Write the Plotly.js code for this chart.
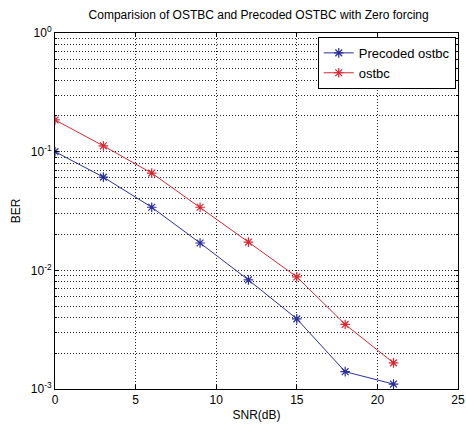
<!DOCTYPE html>
<html>
<head>
<meta charset="utf-8">
<script src="https://cdn.plot.ly/plotly-3.0.1.min.js"></script>
<style>html,body{margin:0;padding:0;background:#fff;}#chart{width:466px;height:428px;}</style>
</head>
<body>
<div id="chart"></div>
<script>
const snr = [0, 3, 6, 9, 12, 15, 18, 21];
const precodedBer = [0.1, 0.061, 0.034, 0.017, 0.0083, 0.0039, 0.0014, 0.0011];
const ostbcBer = [0.185, 0.112, 0.066, 0.034, 0.0173, 0.0088, 0.0035, 0.00166];
const xTickVals = [0, 5, 10, 15, 20, 25];
const yTickVals = [0.001, 0.01, 0.1, 1];
const yTickText = ['10<sup>-3</sup>', '10<sup>-2</sup>', '10<sup>-1</sup>', '10<sup>0</sup>'];

const font = {family: 'Liberation Sans, Arial, sans-serif', size: 12, color: '#000'};
const dot = '1px,2px';

const traces = [
  {x: snr, y: precodedBer, name: 'Precoded ostbc', mode: 'lines+markers',
   line: {color: '#2a2f96', width: 1},
   marker: {symbol: 'asterisk-open', size: 8, color: '#2a2f96', line: {color: '#2a2f96', width: 1.2}}},
  {x: snr, y: ostbcBer, name: 'ostbc', mode: 'lines+markers',
   line: {color: '#d42a35', width: 1},
   marker: {symbol: 'asterisk-open', size: 8, color: '#d42a35', line: {color: '#d42a35', width: 1.2}}}
];

const layout = {
  width: 466, height: 428,
  margin: {l: 55, r: 8, t: 33, b: 39},
  paper_bgcolor: '#fff', plot_bgcolor: '#fff',
  font: font,
  showlegend: true,
  title: {text: 'Comparision of OSTBC and Precoded OSTBC with Zero forcing', font: {family: font.family, size: 12, color: '#000'}, x: 0.555, xanchor: 'center', y: 0.975, yanchor: 'top'},
  xaxis: {
    range: [0, 25], tickvals: xTickVals,
    showgrid: true, gridcolor: '#222', griddash: dot, gridwidth: 1,
    zeroline: false, showline: true, linecolor: '#000', linewidth: 1, mirror: 'allticks',
    ticks: 'inside', ticklen: 4, tickcolor: '#000',
    ticklabeloverflow: 'allow',
    title: {text: 'SNR(dB)', font: font, standoff: 4},
    tickfont: font
  },
  yaxis: {
    type: 'log', range: [-3, 0],
    tickvals: yTickVals, ticktext: yTickText,
    showgrid: true, gridcolor: '#222', griddash: dot, gridwidth: 1,
    zeroline: false, showline: true, linecolor: '#000', linewidth: 1, mirror: 'allticks',
    ticks: 'inside', ticklen: 4, tickcolor: '#000',
    ticklabeloverflow: 'allow',
    minor: {dtick: 'D1', ticks: 'inside', ticklen: 2, tickcolor: '#000', showgrid: true, gridcolor: '#222', griddash: dot, gridwidth: 1},
    title: {text: 'BER', font: font, standoff: 7},
    tickfont: font
  },
  legend: {x: 0.652, y: 0.989, xanchor: 'left', yanchor: 'top', bgcolor: '#fff', bordercolor: '#000', borderwidth: 1, font: {family: font.family, size: 13, color: '#000'}, tracegroupgap: 0, entrywidth: 136}
};

Plotly.newPlot('chart', traces, layout, {displayModeBar: false, staticPlot: true});
</script>
</body>
</html>
